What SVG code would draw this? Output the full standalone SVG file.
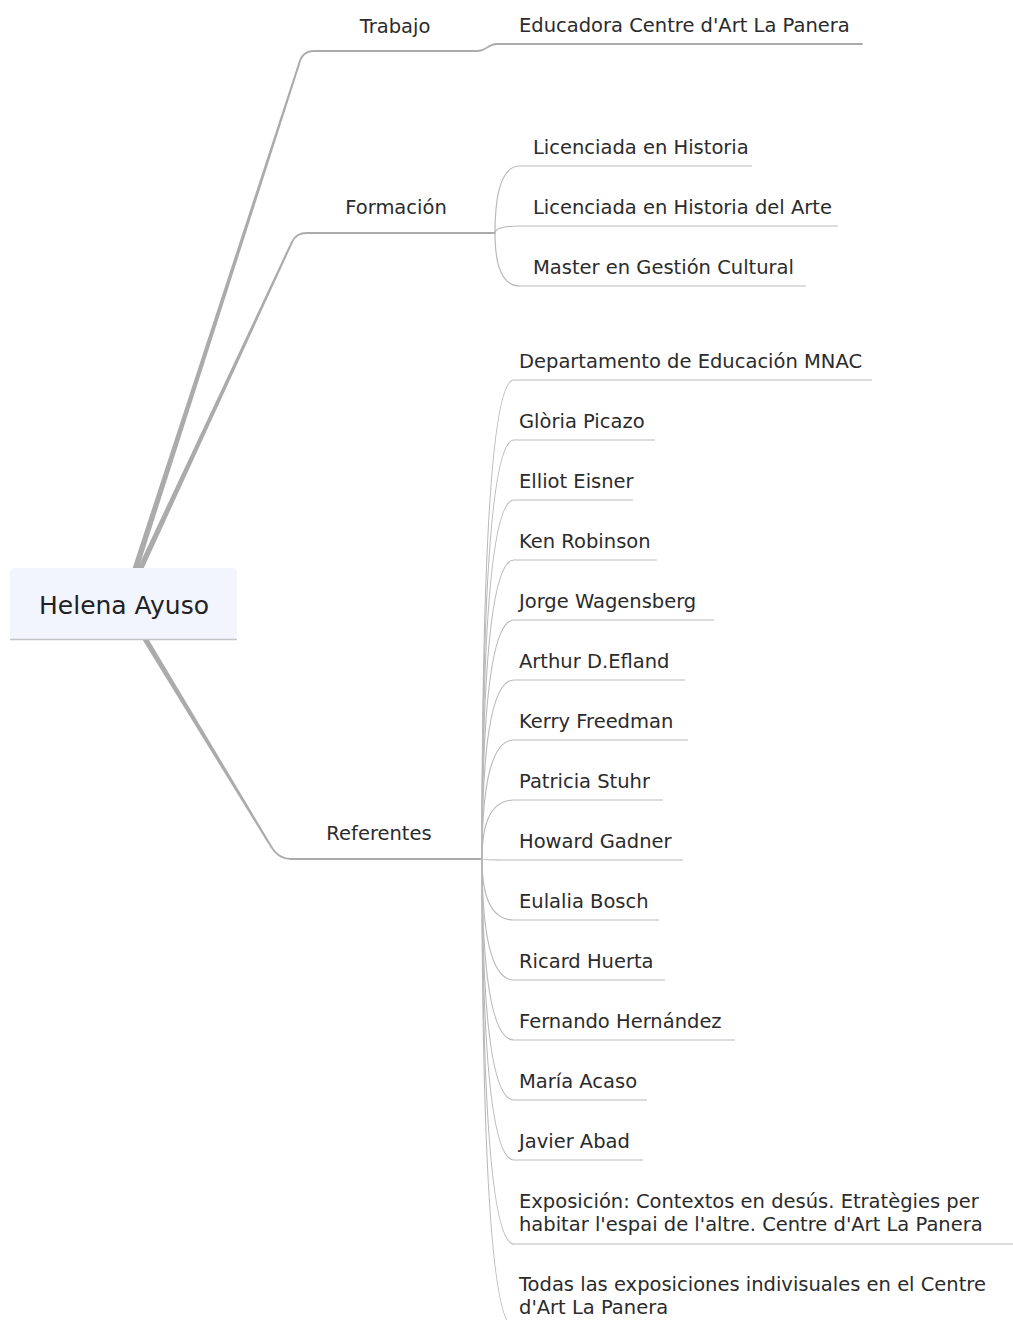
<svg xmlns="http://www.w3.org/2000/svg" width="1013" height="1320" viewBox="0 0 1013 1320">
  <style>
    .lbl { font-family: "DejaVu Sans", Verdana, sans-serif; font-size: 19.5px; fill: #2b2b2b; }
    .mid { text-anchor: middle; }
    .root { font-family: "DejaVu Sans", Verdana, sans-serif; font-size: 25px; fill: #222222; text-anchor: middle; }
    .trunk { fill: #ababab; stroke: none; }
    .main { fill: none; stroke: #ababab; stroke-width: 1.8; stroke-linecap: round; }
    .sub { fill: none; stroke: #b9b9b9; stroke-width: 1.2; }
  </style>

  <rect width="1013" height="1320" fill="#ffffff"/>

  <!-- connectors -->
  <g id="connectors">
    <!-- tapered trunks from the central topic -->
    <path class="trunk" d="M121.15,603.08 L298.05,63.69 L299.95,64.31 L126.85,604.92 Z"/>
    <path class="trunk" d="M121.28,602.74 L291.09,241.58 L292.91,242.42 L126.72,605.26 Z"/>
    <path class="trunk" d="M126.56,602.44 L272.86,847.48 L271.15,848.52 L121.44,605.56 Z"/>

    <!-- main branch underlines -->
    <path class="main" d="M299,64 Q302,51 314,51 L478,51 C487,51 487,44 497,44 L862,44"/>
    <path class="main" d="M292,242 Q296,233 307,233 L495,233"/>
    <path class="main" d="M272,848 Q279,859 291,859 L482,859"/>

    <!-- Formación children -->
    <path class="sub" d="M495,233 Q495,166 520,166 L752,166"/>
    <path class="sub" d="M495,233 Q495,226 520,226 L838,226"/>
    <path class="sub" d="M495,233 Q495,286 520,286 L806,286"/>

    <!-- Referentes children -->
    <path class="sub" d="M482,859 Q482,380 514,380 L872,380"/>
    <path class="sub" d="M482,859 Q482,440 514,440 L655,440"/>
    <path class="sub" d="M482,859 Q482,500 514,500 L633,500"/>
    <path class="sub" d="M482,859 Q482,560 514,560 L657,560"/>
    <path class="sub" d="M482,859 Q482,620 514,620 L714,620"/>
    <path class="sub" d="M482,859 Q482,680 514,680 L685,680"/>
    <path class="sub" d="M482,859 Q482,740 514,740 L688,740"/>
    <path class="sub" d="M482,859 Q482,800 514,800 L663,800"/>
    <path class="sub" d="M482,859 Q482,860 514,860 L683,860"/>
    <path class="sub" d="M482,859 Q482,920 514,920 L659,920"/>
    <path class="sub" d="M482,859 Q482,980 514,980 L665,980"/>
    <path class="sub" d="M482,859 Q482,1040 514,1040 L735,1040"/>
    <path class="sub" d="M482,859 Q482,1100 514,1100 L647,1100"/>
    <path class="sub" d="M482,859 Q482,1160 514,1160 L643,1160"/>
    <path class="sub" d="M482,859 Q482,1244 514,1244 L1013,1244"/>
    <path class="sub" d="M482,859 Q482,1327 514,1327 L1013,1327"/>
  </g>

  <!-- central topic -->
  <g id="helena-ayuso">
    <rect x="10" y="568" width="227" height="72" rx="4" fill="#f2f5fe"/>
    <line x1="10" y1="639.5" x2="237" y2="639.5" stroke="#c4c4c4" stroke-width="1.5"/>
    <text class="root" x="124" y="614">Helena Ayuso</text>
  </g>

  <!-- main branches -->
  <g id="trabajo"><text class="lbl mid" x="395" y="33">Trabajo</text></g>
  <g id="formacion"><text class="lbl mid" x="396" y="214">Formación</text></g>
  <g id="referentes"><text class="lbl mid" x="379" y="840">Referentes</text></g>

  <!-- Trabajo child -->
  <g id="educadora"><text class="lbl" x="519" y="32">Educadora Centre d'Art La Panera</text></g>

  <!-- Formación children -->
  <g id="lic-historia"><text class="lbl" x="533" y="154">Licenciada en Historia</text></g>
  <g id="lic-historia-arte"><text class="lbl" x="533" y="214">Licenciada en Historia del Arte</text></g>
  <g id="master"><text class="lbl" x="533" y="274">Master en Gestión Cultural</text></g>

  <!-- Referentes children -->
  <g id="mnac"><text class="lbl" x="519" y="368">Departamento de Educación MNAC</text></g>
  <g id="picazo"><text class="lbl" x="519" y="428">Glòria Picazo</text></g>
  <g id="eisner"><text class="lbl" x="519" y="488">Elliot Eisner</text></g>
  <g id="robinson"><text class="lbl" x="519" y="548">Ken Robinson</text></g>
  <g id="wagensberg"><text class="lbl" x="519" y="608">Jorge Wagensberg</text></g>
  <g id="efland"><text class="lbl" x="519" y="668">Arthur D.Efland</text></g>
  <g id="freedman"><text class="lbl" x="519" y="728">Kerry Freedman</text></g>
  <g id="stuhr"><text class="lbl" x="519" y="788">Patricia Stuhr</text></g>
  <g id="gadner"><text class="lbl" x="519" y="848">Howard Gadner</text></g>
  <g id="bosch"><text class="lbl" x="519" y="908">Eulalia Bosch</text></g>
  <g id="huerta"><text class="lbl" x="519" y="968">Ricard Huerta</text></g>
  <g id="hernandez"><text class="lbl" x="519" y="1028">Fernando Hernández</text></g>
  <g id="acaso"><text class="lbl" x="519" y="1088">María Acaso</text></g>
  <g id="abad"><text class="lbl" x="519" y="1148">Javier Abad</text></g>
  <g id="exposicion">
    <text class="lbl" x="519" y="1208">Exposición: Contextos en desús. Etratègies per</text>
    <text class="lbl" x="519" y="1231">habitar l'espai de l'altre. Centre d'Art La Panera</text>
  </g>
  <g id="exposiciones-individuales">
    <text class="lbl" x="519" y="1291">Todas las exposiciones indivisuales en el Centre</text>
    <text class="lbl" x="519" y="1314">d'Art La Panera</text>
  </g>
</svg>
